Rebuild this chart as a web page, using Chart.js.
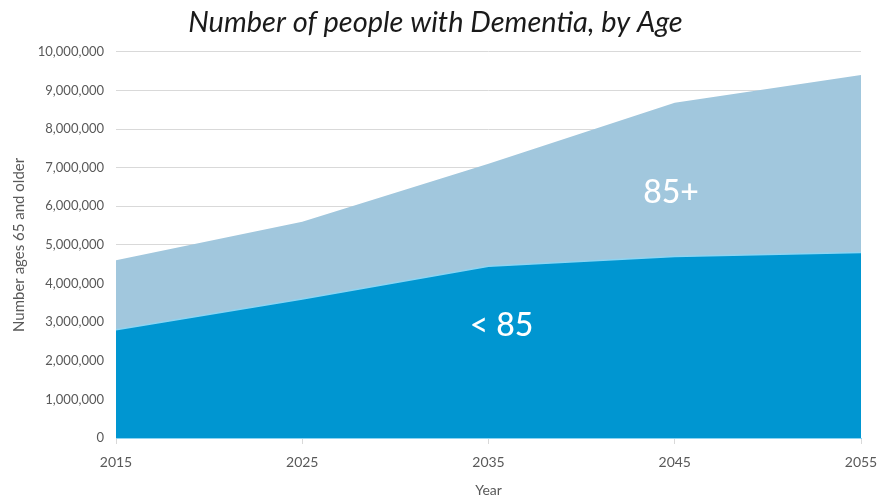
<!DOCTYPE html>
<html>
<head>
<meta charset="utf-8">
<script src="https://cdn.jsdelivr.net/npm/chart.js@4"></script>
<style>
  html, body { margin: 0; padding: 0; background: #fff; }
  #wrap { width: 879px; height: 499px; }
</style>
</head>
<body>
<div id="wrap"><canvas id="myChart"></canvas></div>
<script>
var years = ["2015", "2025", "2035", "2045", "2055"];
var under85 = [2800000, 3600000, 4450000, 4700000, 4800000];
var over85 = [1800000, 2000000, 2650000, 3980000, 4600000];
var yTicks = [0, 1000000, 2000000, 3000000, 4000000, 5000000, 6000000, 7000000, 8000000, 9000000, 10000000];

// writes the series names inside the areas
var areaLabels = {
    id: "areaLabels",
    afterDatasetsDraw: function (chart) {
        var c = chart.ctx;
        var x = chart.scales.x, y = chart.scales.y;
        c.save();
        c.fillStyle = "#ffffff";
        c.font = "500 32px Lato, 'Open Sans', sans-serif";
        c.textAlign = "center";
        c.textBaseline = "middle";
        c.fillText("< 85", x.getPixelForValue(2.07), y.getPixelForValue(2900000));
        c.fillText("85+", x.getPixelForValue(2.98), y.getPixelForValue(6350000));
        c.restore();
    }
};

var ctx = document.getElementById("myChart").getContext("2d");
var myChart = new Chart(ctx, {
    type: "line",
    data: {
        labels: years,
        datasets: [
            {
                label: "< 85",
                data: under85,
                backgroundColor: "#0096d1",
                borderColor: "#8dd4f2",
                borderWidth: 1.5,
                fill: "origin",
                pointRadius: 0,
                tension: 0,
            },
            {
                label: "85+",
                data: over85,
                backgroundColor: "#a1c7dd",
                borderColor: "rgba(0,0,0,0)",
                borderWidth: 0,
                fill: "-1",
                pointRadius: 0,
                tension: 0,
            },
        ],
    },
    options: {
        responsive: true,
        maintainAspectRatio: false,
        animation: false,
        layout: { padding: { left: 10, right: 18, top: 0, bottom: 0 } },
        plugins: {
            legend: { display: false },
            tooltip: { enabled: false },
            title: {
                display: true,
                text: "Number of people with Dementia, by Age",
                color: "#1a1a1a",
                font: { family: "Lato, 'Open Sans', sans-serif", size: 29, style: "italic", weight: "normal", lineHeight: 1.2 },
                padding: { top: 5, bottom: 12 },
            },
        },
        scales: {
            x: {
                offset: false,
                grid: { display: true, drawOnChartArea: false, tickLength: 6, color: "#d9d9d9" },
                border: { display: true, color: "#8dd4f2" },
                ticks: { color: "#595959", font: { family: "Lato, sans-serif", size: 14 }, padding: 10, maxRotation: 0 },
                title: { display: true, text: "Year", color: "#595959", font: { family: "Lato, sans-serif", size: 14 }, padding: { top: 4, bottom: 0 } },
                afterFit: function (s) { s.height = 61; s.paddingLeft = 0; s.paddingRight = 0; },
            },
            y: {
                stacked: true,
                min: 0,
                max: 10000000,
                afterBuildTicks: function (s) { s.ticks = yTicks.map(function (v) { return { value: v }; }); },
                grid: { color: "#d9d9d9", lineWidth: 1, drawTicks: false },
                border: { display: false },
                ticks: {
                    color: "#595959",
                    font: { family: "Lato, sans-serif", size: 13 },
                    padding: 12,
                    callback: function (v) { return v.toLocaleString("en-US"); },
                },
                title: { display: true, text: "Number ages 65 and older", color: "#595959", font: { family: "Lato, sans-serif", size: 15 }, padding: { top: 0, bottom: 4 } },
                afterFit: function (s) { s.width = 106; s.paddingTop = 0; s.paddingBottom = 0; },
            },
        },
    },
    plugins: [areaLabels],
});
</script>
</body>
</html>
